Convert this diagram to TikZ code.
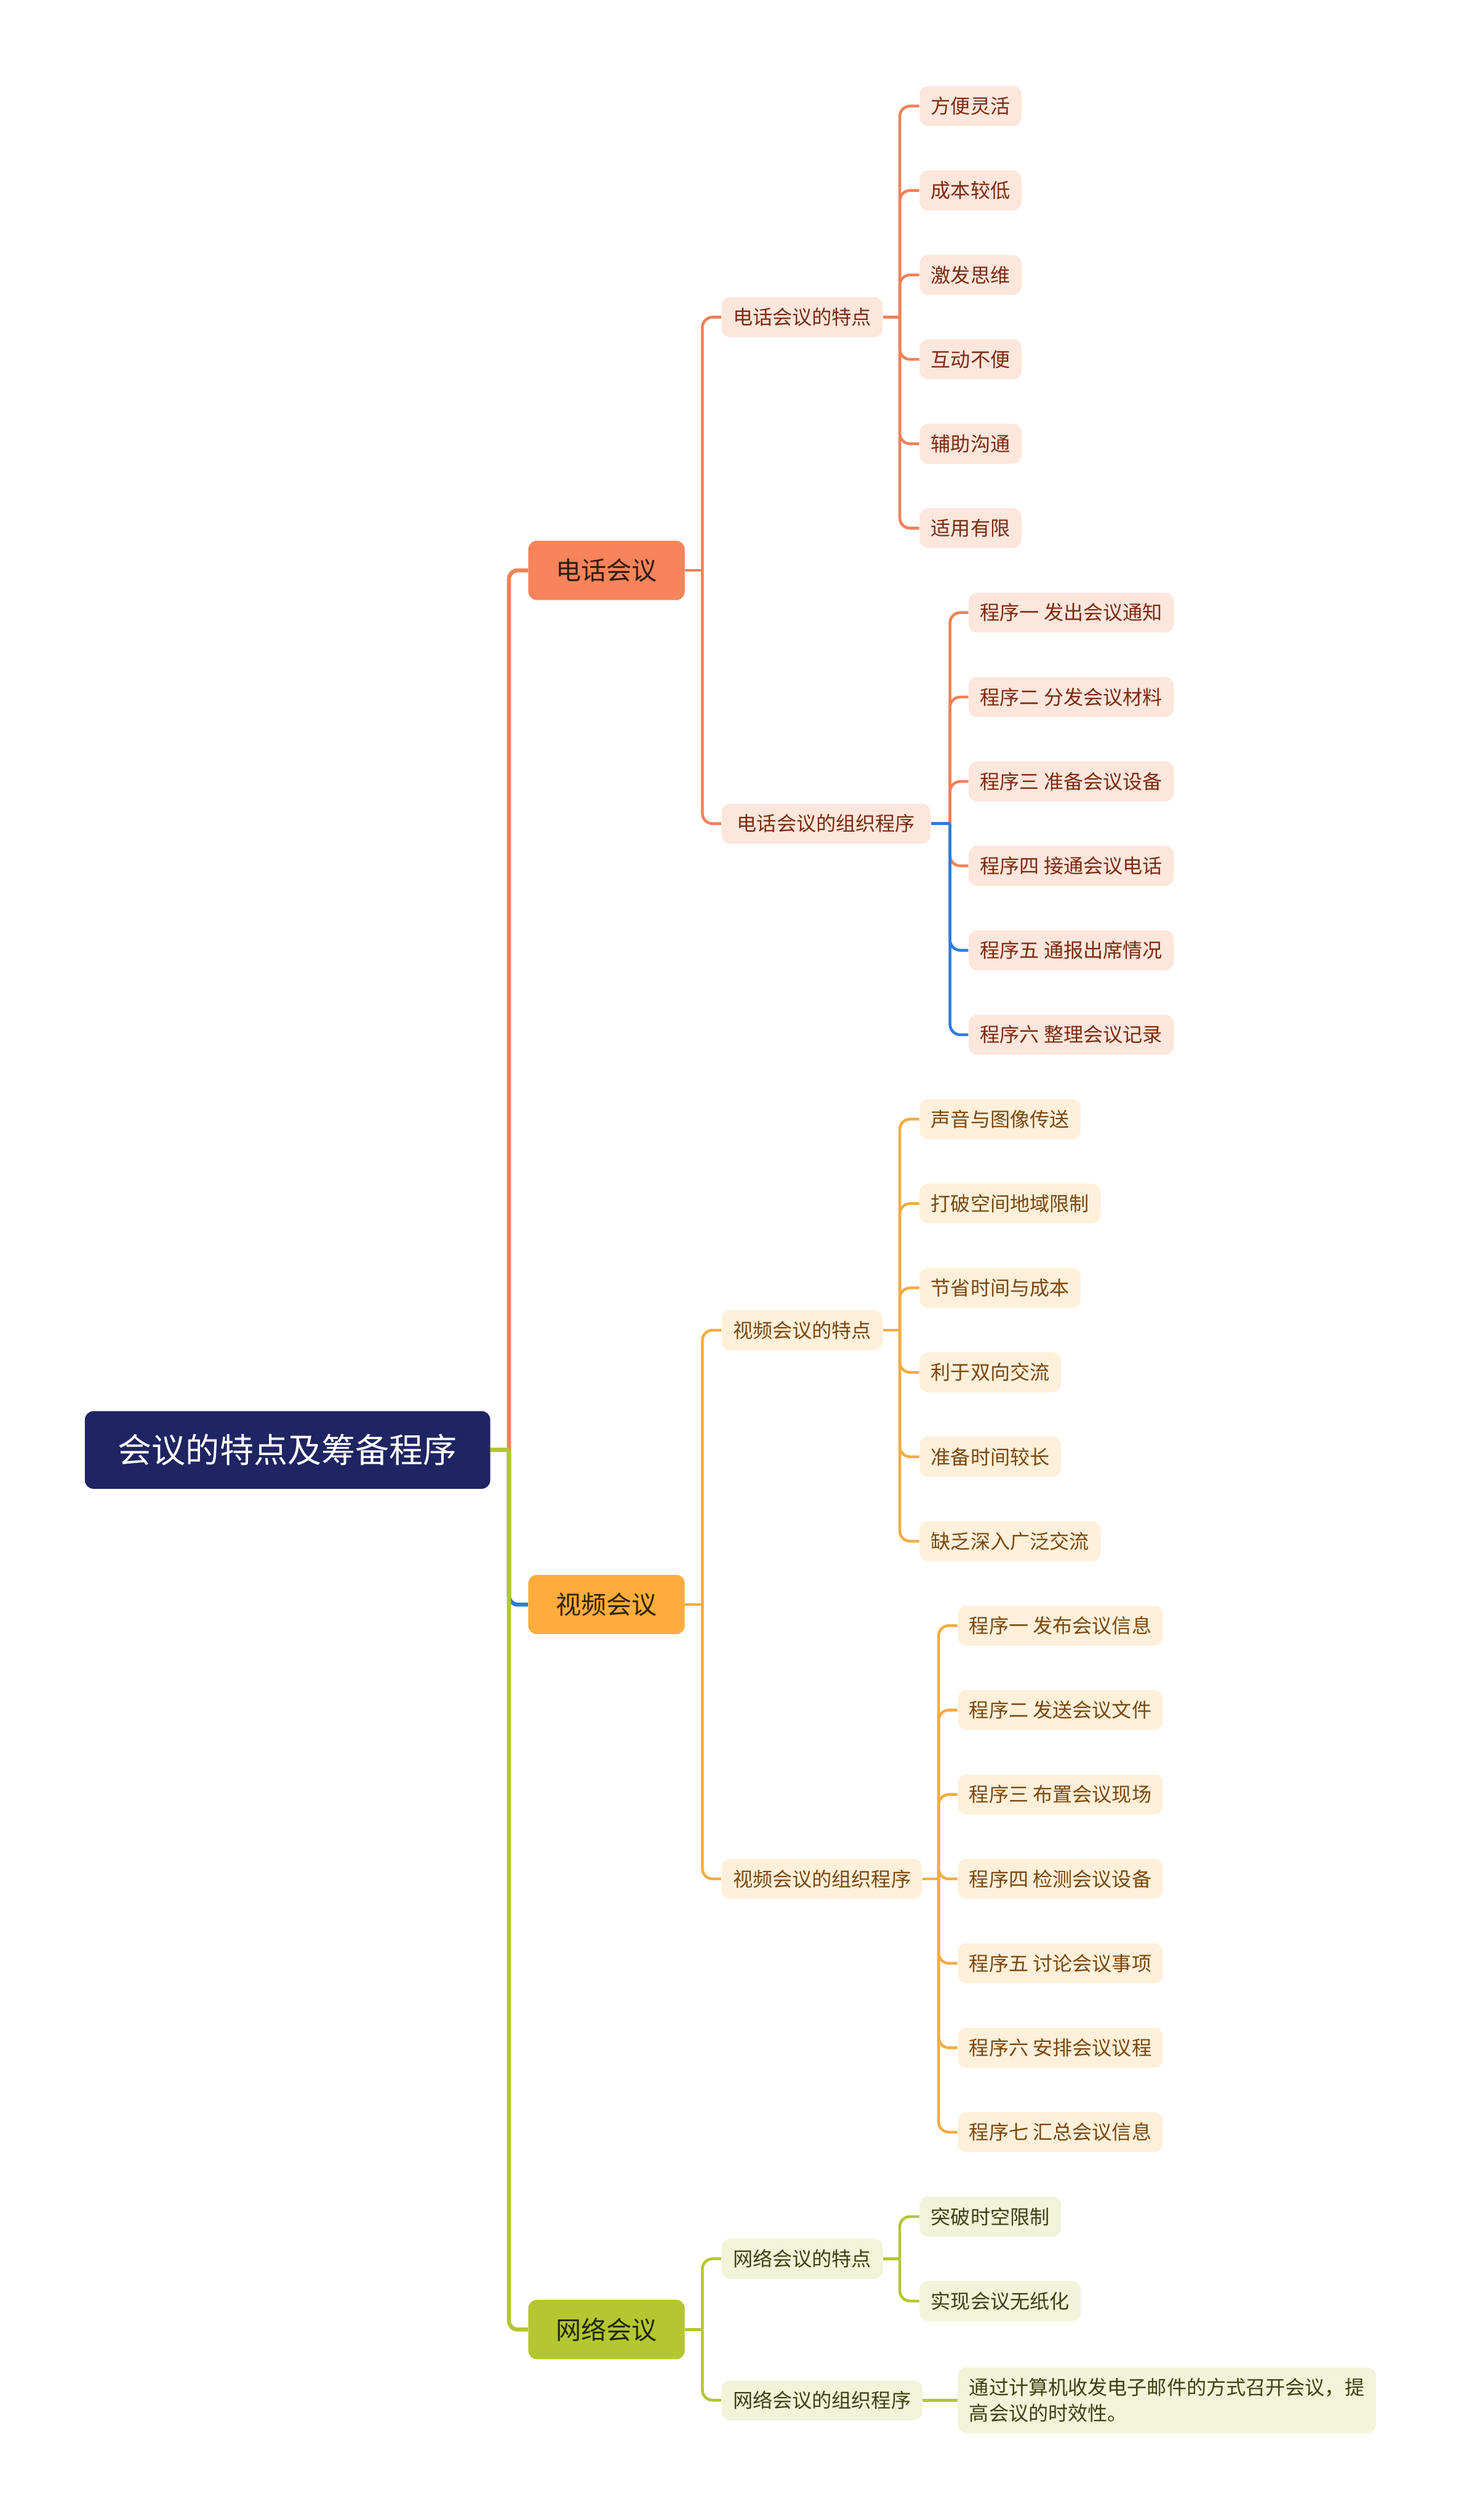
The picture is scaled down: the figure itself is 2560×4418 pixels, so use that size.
\documentclass[tikz,border=0pt]{standalone}
\usepackage{fontspec}
\setmainfont{Noto Sans CJK SC}
\usetikzlibrary{positioning}

\definecolor{rootfill}{HTML}{1F2462}
\definecolor{telmain}{HTML}{F7845A}
\definecolor{telleaf}{HTML}{FDE6DC}
\definecolor{teltext}{HTML}{7C2B12}
\definecolor{telline}{HTML}{EF8258}
\definecolor{vidmain}{HTML}{FDAD3B}
\definecolor{vidleaf}{HTML}{FEF0DA}
\definecolor{vidtext}{HTML}{7A4810}
\definecolor{vidline}{HTML}{F4AC43}
\definecolor{netmain}{HTML}{B4C731}
\definecolor{netleaf}{HTML}{F1F4D9}
\definecolor{nettext}{HTML}{3C4215}
\definecolor{netline}{HTML}{B3C632}
\definecolor{selline}{HTML}{2E7CDB}

\begin{document}
\begin{tikzpicture}[
x=0.01cm, y=-0.01cm,
rootbox/.style={fill=rootfill, text=white, rounded corners=0.15cm, minimum width=7.1cm, minimum height=1.36cm, font=\fontsize{16.9pt}{20pt}\selectfont},
topicbox/.style={rounded corners=0.15cm, minimum width=2.74cm, minimum height=1.04cm, font=\fontsize{12.6pt}{15pt}\selectfont},
subbox/.style={anchor=west, rounded corners=0.15cm, inner xsep=0.2cm, inner ysep=0pt, minimum height=0.7cm, font=\fontsize{9.85pt}{12.8pt}\selectfont},
tel/.style={fill=telleaf, text=teltext},
vid/.style={fill=vidleaf, text=vidtext},
net/.style={fill=netleaf, text=nettext},
trunk/.style={line width=2pt, rounded corners=0.15cm},
link/.style={line width=1.4pt, rounded corners=0.18cm} ]

\useasboundingbox (0,0) rectangle (2560,4418);

% root and main topics
\node[rootbox] (root) at (504,2542) {会议的特点及筹备程序};

\node[topicbox, fill=telmain, text=black!80!telmain] (tel) at (1063,1000) {电话会议};

\node[topicbox, fill=vidmain, text=black!80!vidmain] (vid) at (1063,2813) {视频会议};

\node[topicbox, fill=netmain, text=black!80!netmain] (net) at (1063,4084) {网络会议};

% second level
\node[subbox, tel] (telfeat) at (1264,556) {电话会议的特点};

\node[subbox, tel, minimum width=3.66cm] (telproc) at (1264,1444) {电话会议的组织程序};

\node[subbox, vid] (vidfeat) at (1264,2332) {视频会议的特点};

\node[subbox, vid] (vidproc) at (1264,3294) {视频会议的组织程序};

\node[subbox, net] (netfeat) at (1264,3960) {网络会议的特点};

\node[subbox, net] (netproc) at (1264,4208) {网络会议的组织程序};

% leaves
\foreach \t [count=\i from 0] in {方便灵活, 成本较低, 激发思维, 互动不便, 辅助沟通, 适用有限}
  \node[subbox, tel] (tf\i) at (1611,{186+148*\i}) {\t};

\foreach \t [count=\i from 0] in {程序一 发出会议通知, 程序二 分发会议材料, 程序三 准备会议设备, 程序四 接通会议电话, 程序五 通报出席情况, 程序六 整理会议记录}
  \node[subbox, tel] (tp\i) at (1697,{1074+148*\i}) {\t};

\foreach \t [count=\i from 0] in {声音与图像传送, 打破空间地域限制, 节省时间与成本, 利于双向交流, 准备时间较长, 缺乏深入广泛交流}
  \node[subbox, vid] (vf\i) at (1611,{1962+148*\i}) {\t};

\foreach \t [count=\i from 0] in {程序一 发布会议信息, 程序二 发送会议文件, 程序三 布置会议现场, 程序四 检测会议设备, 程序五 讨论会议事项, 程序六 安排会议议程, 程序七 汇总会议信息}
  \node[subbox, vid] (vp\i) at (1678,{2850+148*\i}) {\t};

\node[subbox, net] (nf0) at (1611,3886) {突破时空限制};

\node[subbox, net] (nf1) at (1611,4034) {实现会议无纸化};

\node[subbox, net, align=left, minimum height=1.15cm] (np0) at (1678,4208) {通过计算机收发电子邮件的方式召开会议，提\\高会议的时效性。};

% junctions
\coordinate (rootj) at (892,2542);
\coordinate (telj) at (1231,1000);
\coordinate (vidj) at (1231,2813);
\coordinate (netj) at (1231,4084);
\coordinate (tfj) at (1577,556);
\coordinate (tpj) at (1665,1444);
\coordinate (vfj) at (1577,2332);
\coordinate (vpj) at (1645,3294);
\coordinate (nfj) at (1577,3960);

% connectors
\draw[trunk, telline] (rootj) |- (tel.west);
\draw[trunk, selline] (rootj) |- (vid.west);
\draw[trunk, netline] (root.east) -- (rootj);
\draw[trunk, netline] (rootj) |- (net.west);

\draw[link, telline] (tel.east) -- (telj);
\foreach \c in {telfeat, telproc} \draw[link, telline] (telj) |- (\c.west);
\draw[link, vidline] (vid.east) -- (vidj);
\foreach \c in {vidfeat, vidproc} \draw[link, vidline] (vidj) |- (\c.west);
\draw[link, netline] (net.east) -- (netj);
\foreach \c in {netfeat, netproc} \draw[link, netline] (netj) |- (\c.west);

\draw[link, telline] (telfeat.east) -- (tfj);
\foreach \i in {0,...,5} \draw[link, telline] (tfj) |- (tf\i.west);
\foreach \i in {0,...,3} \draw[link, telline] (tpj) |- (tp\i.west);
\draw[link, selline] (telproc.east) -- (tpj);
\foreach \i in {4,5} \draw[link, selline] (tpj) |- (tp\i.west);

\draw[link, vidline] (vidfeat.east) -- (vfj);
\foreach \i in {0,...,5} \draw[link, vidline] (vfj) |- (vf\i.west);
\draw[link, vidline] (vidproc.east) -- (vpj);
\foreach \i in {0,...,6} \draw[link, vidline] (vpj) |- (vp\i.west);

\draw[link, netline] (netfeat.east) -- (nfj);
\foreach \i in {0,1} \draw[link, netline] (nfj) |- (nf\i.west);
\draw[link, netline] (netproc.east) -- (np0.west);

\end{tikzpicture}
\end{document}
